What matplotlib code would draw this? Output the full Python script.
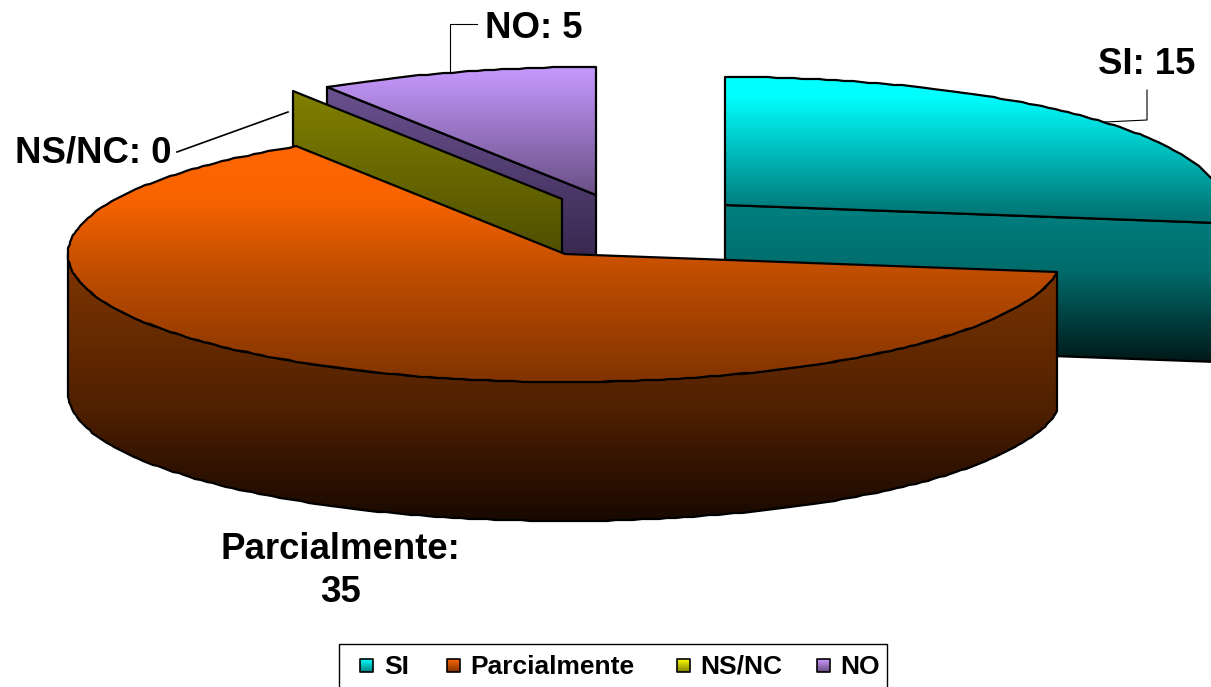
# -*- coding: utf-8 -*-
import numpy as np
import matplotlib
matplotlib.use('Agg')
import matplotlib.pyplot as plt
from matplotlib.patches import Polygon, Rectangle
from matplotlib.colors import to_rgb

# %% Datos
categorias = ['SI', 'Parcialmente', 'NS/NC', 'NO']
valores = [15, 35, 0, 5]

# %% Estilo
plt.rcParams['font.family'] = ['Liberation Sans', 'DejaVu Sans']
ANCHO, ALTO = 1211, 687
A, B, PROF = 497, 128, 139   # semiejes de la elipse y espesor de la torta

fig = plt.figure(figsize=(ANCHO / 100, ALTO / 100), dpi=100)
ax = fig.add_axes([0, 0, 1, 1])
ax.axis('off')
orden = [1]


def gradiente(pts, paradas, lw=1.6, ec='black'):
    # relleno vertical recortado al poligono, paradas = [(y, color), ...]
    pts = np.array(pts)
    ys = np.array([p[0] for p in paradas], dtype=float)
    cols = np.array([to_rgb(p[1]) for p in paradas])
    yy = np.linspace(pts[:, 1].min(), pts[:, 1].max(), 300)
    img = np.stack([np.interp(yy, ys, cols[:, i]) for i in range(3)], axis=1)[:, None, :]
    pol = Polygon(pts, closed=True, fc='none', ec=ec, lw=lw, zorder=orden[0] + 0.5, joinstyle='round')
    ax.add_patch(pol)
    im = ax.imshow(img, extent=(pts[:, 0].min(), pts[:, 0].max(), yy[-1], yy[0]),
                   aspect='auto', zorder=orden[0], interpolation='bilinear')
    im.set_clip_path(pol)
    orden[0] += 1


def arco(cx, cy, t1, t2):
    # borde de la elipse, redondeado para que quede apenas escalonado como el original
    n = int(abs(t2 - t1)) + 2
    t = np.radians(np.linspace(t1, t2, n))
    x = np.round(cx + A * np.cos(t))
    y = np.round(cy - B * np.sin(t))
    return np.column_stack([x, y])


def bajar(pts):
    return np.array(pts) + [0, PROF]


# %% Angulos de cada porcion (en sentido horario desde arriba)
total = sum(valores)
barrido = [v / total * 360 for v in valores]
t_si = (90, 90 - barrido[0])
t_par = (t_si[1], t_si[1] - barrido[1])
t_ns = t_par[1]
t_no = (t_par[1], t_par[1] - barrido[3])

# %% SI (separada a la derecha)
c_si = (725, 205)
borde = arco(*c_si, *t_si)
fin = borde[-1]
gradiente([c_si, fin, bajar(fin), bajar(c_si)],
          [(205, '#008080'), (270, '#006C6C'), (362, '#001818')])
gradiente(np.vstack([[c_si], borde]),
          [(77, '#00FFFF'), (95, '#00FFFF'), (205, '#007F7F'), (223, '#007070')])

# %% NO
c_no = (596, 195)
borde = arco(*c_no, *t_no)
esq = arco(*c_no, t_no[0], t_no[0])[0]
gradiente([c_no, esq, bajar(esq), bajar(c_no)],
          [(87, '#6A5190'), (255, '#392950')])
gradiente(np.vstack([[c_no], borde]), [(68, '#C699FF'), (195, '#694F85')])

# %% NS/NC (valor 0, queda solo la pared)
c_ns = (562, 199)
esq = arco(*c_ns, t_ns, t_ns)[0]
gradiente([c_ns, esq, bajar(esq), bajar(c_ns)],
          [(92, '#808000'), (254, '#4F4F00')])

# %% Parcialmente
c_par = (565, 254)
frente = arco(*c_par, t_par[0], -180)
gradiente(np.vstack([frente, bajar(frente)[::-1]]),
          [(272, '#7A3300'), (320, '#6B2D00'), (410, '#4F2000'), (450, '#3A1600'), (521, '#180900')])
borde = arco(*c_par, *t_par)
gradiente(np.vstack([[c_par], borde]),
          [(147, '#FF6600'), (200, '#F86300'), (272, '#C04D00'), (383, '#803300')])

# %% Etiquetas y lineas guia
kw_et = dict(fontsize=26.4, fontweight='bold', color='black', zorder=50, va='center')
ax.text(1147, 64, f'{categorias[0]}: {valores[0]}', ha='center', **kw_et)
ax.text(340, 571, f'{categorias[1]}:\n{valores[1]}', ha='center', linespacing=1.3, **kw_et)
ax.text(93, 153, f'{categorias[2]}: {valores[2]}', ha='center', **kw_et)
ax.text(534, 29, f'{categorias[3]}: {valores[3]}', ha='center', **kw_et)

ax.plot([1147, 1147, 1105], [90, 120, 122], color='black', lw=0.8, zorder=49)
ax.plot([477, 450, 450], [24, 24, 72], color='black', lw=0.8, zorder=49)
ax.plot([177, 288], [152, 112], color='black', lw=1.2, zorder=49)

# %% Leyenda
ax.add_patch(Rectangle((339, 644), 548, 60, fc='white', ec='black', lw=1, zorder=60))
x_cuadro = [360, 447, 677, 817]
x_texto = [384, 470, 700, 840]
col_ley = [('#00FFFF', '#007F7F'), ('#FF6600', '#803300'), ('#FFFF00', '#808000'), ('#CC99FF', '#664C80')]
orden[0] = 61
for cat, xc, xt, col in zip(categorias, x_cuadro, x_texto, col_ley):
    gradiente([(xc, 659), (xc + 13, 659), (xc + 13, 672), (xc, 672)],
              [(659, col[0]), (672, col[1])], lw=1.2)
    ax.text(xt, 667, cat, fontsize=19, fontweight='bold', va='center', ha='left', zorder=70)

ax.set_xlim(0, ANCHO)
ax.set_ylim(ALTO, 0)
fig.savefig('out.png', dpi=100, facecolor='white')
